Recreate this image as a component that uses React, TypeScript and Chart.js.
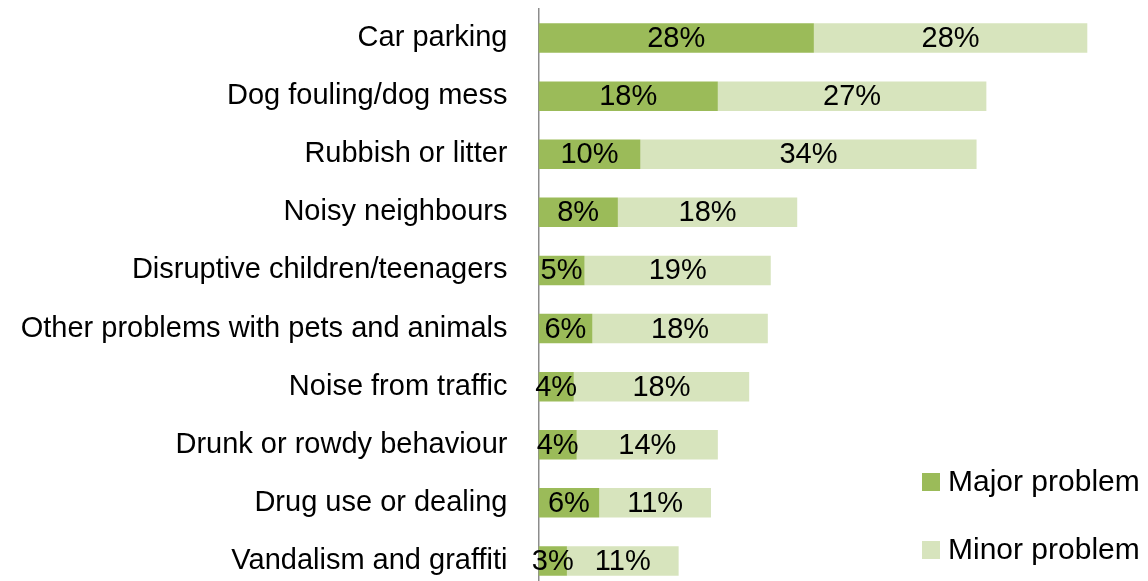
import React, { useEffect, useRef } from "react";
import { Chart, registerables } from "chart.js";

Chart.register(...registerables);

const categories = [
  "Car parking",
  "Dog fouling/dog mess",
  "Rubbish or litter",
  "Noisy neighbours",
  "Disruptive children/teenagers",
  "Other problems with pets and animals",
  "Noise from traffic",
  "Drunk or rowdy behaviour",
  "Drug use or dealing",
  "Vandalism and graffiti",
];

const majorProblem = [28.1, 18.3, 10.4, 8.1, 4.7, 5.5, 3.6, 3.9, 6.2, 2.9];
const minorProblem = [27.9, 27.4, 34.3, 18.3, 19.0, 17.9, 17.9, 14.4, 11.4, 11.4];

const seriesNames = ["Major problem", "Minor problem"];
const seriesColors = ["#9BBB59", "#D7E4BD"];

const FONT = "'Liberation Sans', Arial, sans-serif";

const valueLabels = {
  id: "valueLabels",
  afterDatasetsDraw(chart: any) {
    const ctx = chart.ctx;
    ctx.save();
    ctx.font = `29px ${FONT}`;
    ctx.fillStyle = "#000";
    ctx.textAlign = "center";
    ctx.textBaseline = "middle";
    chart.data.datasets.forEach((ds: any, di: number) => {
      const meta = chart.getDatasetMeta(di);
      meta.data.forEach((bar: any, i: number) => {
        const v = ds.data[i];
        const cx = (bar.x + bar.base) / 2;
        ctx.fillText(Math.round(v) + "%", cx, bar.y + 1);
      });
    });
    ctx.restore();
  },
};

const customLegend = {
  id: "customLegend",
  afterDraw(chart: any) {
    const ctx = chart.ctx;
    ctx.save();
    ctx.font = `30px ${FONT}`;
    ctx.textAlign = "left";
    ctx.textBaseline = "middle";
    const ys = [482, 550];
    chart.data.datasets.forEach((ds: any, i: number) => {
      ctx.fillStyle = ds.backgroundColor;
      ctx.fillRect(922, ys[i] - 9, 18, 18);
      ctx.fillStyle = "#000";
      ctx.fillText(ds.label, 948, ys[i] + 1);
    });
    ctx.restore();
  },
};

export default function App() {
  const ref = useRef<HTMLCanvasElement>(null);
  useEffect(() => {
    if (!ref.current) return;
    const chart = new Chart(ref.current, {
      type: "bar",
      data: {
        labels: categories,
        datasets: [
          {
            label: seriesNames[0],
            data: majorProblem,
            backgroundColor: seriesColors[0],
            borderWidth: 0,
            barPercentage: 1,
            categoryPercentage: 0.508,
          },
          {
            label: seriesNames[1],
            data: minorProblem,
            backgroundColor: seriesColors[1],
            borderWidth: 0,
            barPercentage: 1,
            categoryPercentage: 0.508,
          },
        ],
      },
      options: {
        indexAxis: "y",
        responsive: false,
        animation: false,
        layout: { padding: { top: 9, bottom: 1, left: 0, right: 21.5 } },
        plugins: {
          legend: { display: false },
          tooltip: { enabled: false },
        },
        scales: {
          x: {
            stacked: true,
            min: 0,
            max: 60,
            display: false,
          },
          y: {
            stacked: true,
            grid: { display: false, drawTicks: false },
            border: { display: true, color: "#8c8c8c", width: 1.5 },
            ticks: {
              color: "#000",
              padding: 31,
              font: { family: FONT, size: 29 },
            },
            afterFit: (s: any) => {
              s.width = 538.5;
              s.paddingTop = 0;
              s.paddingBottom = 0;
            },
          },
        },
      },
      plugins: [valueLabels, customLegend],
    });
    return () => chart.destroy();
  }, []);
  return (
    <div
      style={{
        position: "fixed",
        left: 0,
        top: 0,
        width: 1148,
        height: 591,
        background: "#fff",
      }}
    >
      <canvas ref={ref} width={1148} height={591} />
    </div>
  );
}
